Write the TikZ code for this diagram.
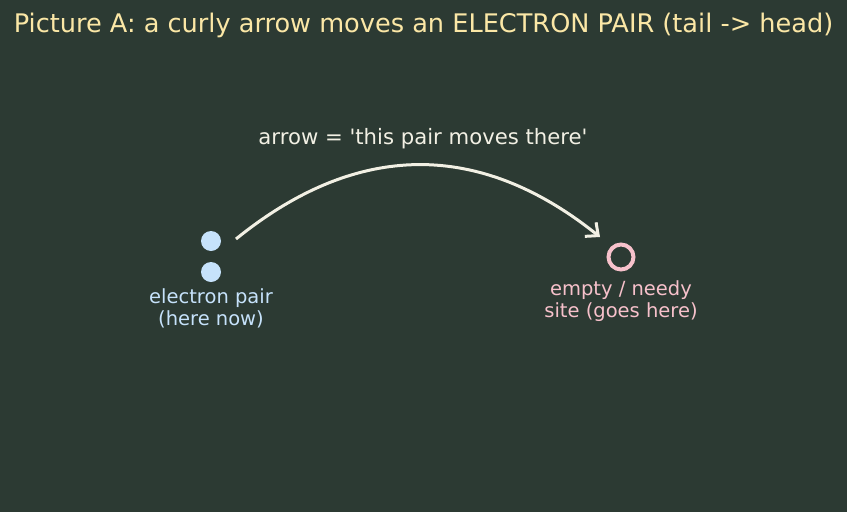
\documentclass[tikz,border=0pt]{standalone}
\usepackage{fontspec}
\newfontfamily\plotfont{DejaVu Sans}
\usetikzlibrary{arrows.meta,positioning}
\definecolor{boardbg}{HTML}{2C3A33}
\definecolor{titlecol}{HTML}{FBE7A6}
\definecolor{arrowcol}{HTML}{F2F0E4}
\definecolor{paircol}{HTML}{C6E2FB}
\definecolor{sitecol}{HTML}{F7C1CB}
\tikzset{
  electron/.style={circle,fill=paircol,minimum size=20pt,inner sep=0pt},
  site/.style={circle,draw=sitecol,line width=4pt,minimum size=25pt,inner sep=0pt},
  pairtext/.style={text=paircol,align=center,font=\plotfont\fontsize{19.5}{22}\selectfont,inner sep=1pt},
  sitetext/.style={text=sitecol,align=center,font=\plotfont\fontsize{19.5}{22}\selectfont,inner sep=1pt},
  curly/.style={draw=arrowcol,line width=3pt,-{Straight Barb[length=10pt,width=18pt]}}
}

\begin{document}
\begin{tikzpicture}[x=1pt,y=-1pt,node distance=5pt]

\fill[boardbg] (0,0) rectangle (847,512);
\useasboundingbox (0,0) rectangle (847,512);

% =========================================================
% Title
% =========================================================

\node[text=titlecol,font=\plotfont\fontsize{25.6}{30}\selectfont] (title) at (423.5,25) {Picture A: a curly arrow moves an ELECTRON PAIR (tail -> head)};

% =========================================================
% Electron pair and empty site
% =========================================================

\node[electron] (e1) at (211,241) {};
\node[electron] (e2) at (211,272) {};
\node[pairtext,below=of e2] (pairlab) {electron pair\\(here now)};

\node[site] (hole) at (621,257) {};
\node[sitetext,below=8pt of hole] (holelab) {empty / needy\\site (goes here)};

% =========================================================
% Curly arrow
% =========================================================

\coordinate (tail) at (236,239);
\coordinate (head) at (600,237);

\draw[curly] (tail) .. controls (357,141) and (479,140) .. (head);

\node[text=arrowcol,font=\plotfont\fontsize{21.2}{25}\selectfont] (arrowlab) at (423,139) {arrow = 'this pair moves there'};

\end{tikzpicture}
\end{document}
